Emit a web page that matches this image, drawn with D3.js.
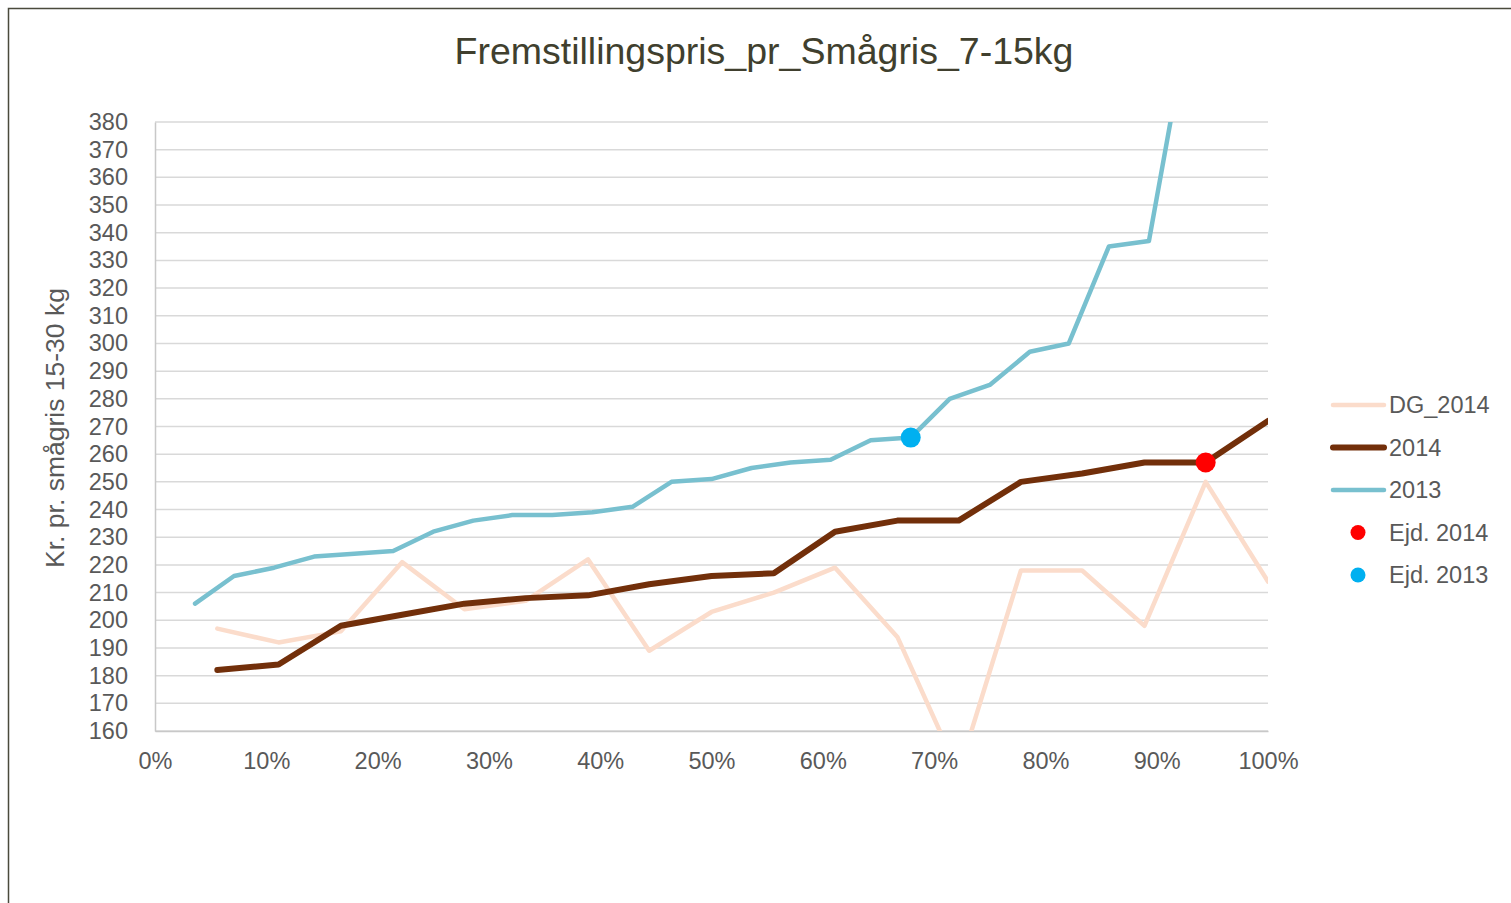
<!DOCTYPE html>
<meta charset="utf-8">
<style>
    body { margin: 0; background: #fff; }
    text { font-family: "Liberation Sans", Arial, sans-serif; }
</style>
<div id="chart"></div>
<script src="https://cdn.jsdelivr.net/npm/d3@7"></script>
<script>

    // x positions are in percent of herds (rank), values in kr.
    const pct2013 = [3.6, 7.1, 10.7, 14.3, 17.9, 21.4, 25.0, 28.6, 32.1, 35.7, 39.3, 42.9, 46.4,
                     50.0, 53.6, 57.1, 60.7, 64.3, 67.9, 71.4, 75.0, 78.6, 82.1, 85.7, 89.3, 92.9];
    const val2013 = [206, 216, 219, 223, 224, 225, 232, 236, 238, 238, 239, 241, 250,
                     251, 255, 257, 258, 265, 266, 280, 285, 297, 300, 335, 337, 417];

    const pct2014 = [5.6, 11.1, 16.7, 22.2, 27.8, 33.3, 38.9, 44.4, 50.0,
                     55.6, 61.1, 66.7, 72.2, 77.8, 83.3, 88.9, 94.4, 100.0];
    const val2014 = [182, 184, 198, 202, 206, 208, 209, 213, 216,
                     217, 232, 236, 236, 250, 253, 257, 257, 272];
    const valDG2014 = [197, 192, 196, 221, 204, 207, 222, 189, 203,
                       210, 219, 194, 145, 218, 218, 198, 250, 214];

    const ejd2014 = {pct: 94.4, value: 257};
    const ejd2013 = {pct: 67.9, value: 266};

    const yTicks = d3.range(160, 381, 10);
    const xTicks = [0, 10, 20, 30, 40, 50, 60, 70, 80, 90, 100];

    const width = 1511, height = 903;
    const svg = d3.select("#chart").append("svg")
                  .attr("width", width)
                  .attr("height", height);

    svg.append("rect")
       .attr("x", 8.5).attr("y", 8.5)
       .attr("width", width + 20).attr("height", height + 20)
       .attr("fill", "none")
       .attr("stroke", "#4a4a3c")
       .attr("stroke-width", 1.5);

    const x = d3.scaleLinear().domain([0, 100]).range([155, 1268]);
    const y = d3.scaleLinear().domain([160, 380]).range([731, 122]);

    svg.append("text")
       .attr("x", 764).attr("y", 64)
       .attr("text-anchor", "middle")
       .attr("fill", "#403f2e")
       .style("font-size", "37.5px")
       .text("Fremstillingspris_pr_Smågris_7-15kg");

    // gridlines
    svg.append("g")
       .selectAll("line")
       .data(yTicks)
       .join("line")
       .attr("x1", x(0)).attr("x2", x(100))
       .attr("y1", d => y(d)).attr("y2", d => y(d))
       .attr("stroke", "#d9d9d9")
       .attr("stroke-width", 1.5);

    const yAxis = svg.append("g")
       .attr("transform", `translate(${x(0)},0)`)
       .call(d3.axisLeft(y).tickValues(yTicks).tickSize(0).tickPadding(27));
    yAxis.select(".domain").attr("stroke", "#c8c8c8").attr("stroke-width", 1.5);
    yAxis.selectAll("text").attr("fill", "#595959").style("font-size", "23.5px");

    const xAxis = svg.append("g")
       .attr("transform", `translate(0,${y(160)})`)
       .call(d3.axisBottom(x).tickValues(xTicks).tickSize(0).tickPadding(21).tickFormat(d => d + "%"));
    xAxis.select(".domain").attr("stroke", "#c8c8c8").attr("stroke-width", 1.5);
    xAxis.selectAll("text").attr("fill", "#595959").style("font-size", "23.5px");

    svg.append("text")
       .attr("transform", `translate(64,428) rotate(-90)`)
       .attr("text-anchor", "middle")
       .attr("fill", "#595959")
       .style("font-size", "26.5px")
       .text("Kr. pr. smågris 15-30 kg");

    svg.append("clipPath").attr("id", "plot")
       .append("rect")
       .attr("x", x(0)).attr("y", y(380))
       .attr("width", x(100) - x(0)).attr("height", y(160) - y(380));

    const line = d3.line()
                   .x(d => x(d[0]))
                   .y(d => y(d[1]));

    const series = [
        {name: "DG_2014", color: "#fbdccb", width: 4.5, pts: d3.zip(pct2014, valDG2014)},
        {name: "2014",    color: "#722f0a", width: 6,   pts: d3.zip(pct2014, val2014)},
        {name: "2013",    color: "#78c0cf", width: 4.5, pts: d3.zip(pct2013, val2013)}
    ];
    const dots = [
        {name: "Ejd. 2014", color: "#ff0000", d: ejd2014},
        {name: "Ejd. 2013", color: "#00b0f0", d: ejd2013}
    ];

    const plot = svg.append("g").attr("clip-path", "url(#plot)");

    plot.selectAll("path")
        .data(series)
        .join("path")
        .attr("d", d => line(d.pts))
        .attr("fill", "none")
        .attr("stroke", d => d.color)
        .attr("stroke-width", d => d.width)
        .attr("stroke-linejoin", "round")
        .attr("stroke-linecap", "round");

    svg.append("g")
       .selectAll("circle")
       .data(dots)
       .join("circle")
       .attr("cx", d => x(d.d.pct))
       .attr("cy", d => y(d.d.value))
       .attr("r", 10)
       .attr("fill", d => d.color);

    // legend
    const legend = svg.append("g");
    const legendY = d3.scalePoint().domain(series.map(d => d.name).concat(dots.map(d => d.name)))
                      .range([405, 575]);

    legend.selectAll("line")
          .data(series)
          .join("line")
          .attr("x1", 1333).attr("x2", 1384)
          .attr("y1", d => legendY(d.name)).attr("y2", d => legendY(d.name))
          .attr("stroke", d => d.color)
          .attr("stroke-width", d => d.width)
          .attr("stroke-linecap", "round");

    legend.selectAll("circle")
          .data(dots)
          .join("circle")
          .attr("cx", 1358)
          .attr("cy", d => legendY(d.name))
          .attr("r", 7.5)
          .attr("fill", d => d.color);

    legend.selectAll("text")
          .data(series.concat(dots))
          .join("text")
          .attr("x", 1389)
          .attr("y", d => legendY(d.name))
          .attr("dy", "0.36em")
          .attr("fill", "#595959")
          .style("font-size", "23.5px")
          .text(d => d.name);

</script>
